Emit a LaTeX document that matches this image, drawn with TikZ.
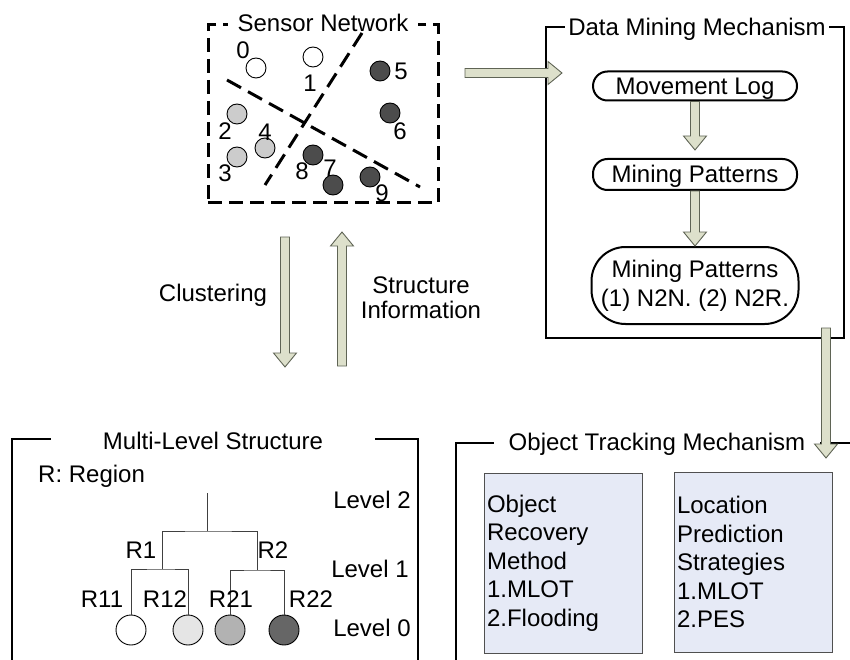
\documentclass[tikz,border=0pt]{standalone}
\usepackage{fontspec}
\setmainfont{Liberation Sans}
\usetikzlibrary{positioning, calc}

\definecolor{arrfill}{RGB}{221,224,203}
\definecolor{arrline}{RGB}{95,100,85}
\definecolor{boxfill}{RGB}{230,234,246}
\definecolor{boxline}{RGB}{80,80,80}

\begin{document}
\begin{tikzpicture}[x=1pt, y=-1pt,
		every node/.style={font=\fontsize{24}{28.5}\selectfont, inner sep=0pt},
		lbl/.style={text height=17pt, text depth=0pt},
		frame/.style={draw, line width=2.4pt},
		snframe/.style={draw, line width=3pt, dash pattern=on 14pt off 7pt},
		cut/.style={line width=3pt, dash pattern=on 16pt off 8pt},
		title/.style={fill=white, inner ysep=2pt},
		sensor/.style={circle, draw, line width=0.9pt, minimum size=20pt},
		region/.style={circle, draw, line width=0.9pt, minimum size=30pt},
		pill/.style={draw, line width=2pt, rounded corners=14.5pt, minimum width=204pt, minimum height=29pt},
		method/.style={draw=boxline, fill=boxfill, line width=0.8pt, inner xsep=3pt, minimum width=158pt, minimum height=180pt, text width=152pt, align=left},
		tree/.style={draw=black!75, line width=0.8pt},
		fat/.style={draw=arrline, fill=arrfill, line width=0.9pt, to path={
				($(\tikztostart)!4.5pt!90:(\tikztotarget)$) --
				($(\tikztotarget)!14pt!(\tikztostart)!4.5pt!-90:(\tikztostart)$) --
				($(\tikztotarget)!14pt!(\tikztostart)!11.5pt!-90:(\tikztostart)$) --
				(\tikztotarget) --
				($(\tikztotarget)!14pt!(\tikztostart)!11.5pt!90:(\tikztostart)$) --
				($(\tikztotarget)!14pt!(\tikztostart)!4.5pt!90:(\tikztostart)$) --
				($(\tikztostart)!4.5pt!-90:(\tikztotarget)$) -- cycle}}
		]
		\useasboundingbox (0,0) rectangle (850,660);
		\clip (0,0) rectangle (850,660);
		
		% Sensor network
		\node (sn) [snframe, minimum width=230pt, minimum height=178pt] at (323,114) {};
		\node (snt) [title, lbl, inner xsep=10pt] at (323,23) {Sensor Network};
		\coordinate (a1) at (227,80);
		\coordinate (a2) at (420,187);
		\coordinate (b1) at (362,33);
		\coordinate (b2) at (265,185);
		\draw [cut] (a1) -- (a2);
		\draw [cut] (b1) -- (b2);
		\foreach \n/\x/\y/\f/\lx/\ly in {0/256/68/white/243/50, 1/313/57/white/310/83,
			2/237/114/black!20/225/131, 3/237/157/black!20/225/173, 4/265/148/black!20/265/132,
			5/380/71/black!70/401/71, 6/390/113/black!70/400/131, 7/333/185/black!70/330/168,
			8/313/155/black!70/302/171, 9/370/177/black!70/382/193}
		{
			\node (s\n) [sensor, fill=\f] at (\x,\y) {};
			\node (l\n) [lbl] at (\lx,\ly) {\n};
		}
		
		% Data mining
		\node (dm) [frame, minimum width=298pt, minimum height=311pt] at (695,182.5) {};
		\node (dmt) [title, lbl, inner xsep=3pt] at (697,27) {Data Mining Mechanism};
		\node (mv) [pill, lbl] at (695,86) {Movement Log};
		\node (mp) [pill, lbl, below=56.5pt of mv, minimum height=31pt] {Mining Patterns};
		\node (mr) [pill, below=55pt of mp, minimum width=207pt, minimum height=77pt, rounded corners=34pt, align=center, font=\fontsize{24}{29}\selectfont] {Mining Patterns\\(1) N2N. (2) N2R.};
		
		% Multi-level structure
		\node (ml) [frame, minimum width=406pt, minimum height=241pt] at (215,559.5) {};
		\node (mlt) [title, lbl, inner xsep=52pt] at (213,441) {Multi-Level Structure};
		\node (rg) [lbl, anchor=west] at (38,474) {R: Region};
		\coordinate (t0) at (207,493);
		\coordinate (tr) at (207,531);
		\coordinate (tr1) at (162,569);
		\coordinate (tr2) at (257,570);
		\node (c11) [region, fill=white] at (131,630) {};
		\node (c12) [region, fill=black!10] at (188,630) {};
		\node (c21) [region, fill=black!30] at (230,630) {};
		\node (c22) [region, fill=black!60] at (284,630) {};
		\draw [tree] (t0) -- (tr);
		\draw [tree] (tr1) |- (tr) -| (tr2);
		\draw [tree] (c11) |- (tr1) -| (c12);
		\draw [tree] (c21) |- (tr2) -| (c22);
		\node (r1) [lbl] at (141,550) {R1};
		\node (r2) [lbl] at (273,550) {R2};
		\node (r11) [lbl] at (102,599) {R11};
		\node (r12) [lbl] at (165,599) {R12};
		\node (r21) [lbl] at (231,599) {R21};
		\node (r22) [lbl] at (311,599) {R22};
		\node (lv2) [lbl] at (372,500) {Level 2};
		\node (lv1) [lbl] at (370,569) {Level 1};
		\node (lv0) [lbl] at (372,628) {Level 0};
		
		% Object tracking
		\node (ot) [frame, minimum width=414pt, minimum height=237pt] at (663,561.5) {};
		\node (ott) [title, lbl, inner xsep=15pt] at (657,442) {Object Tracking Mechanism};
		\node (orm) [method] at (563,563) {Object\\Recovery\\Method\\1.MLOT\\2.Flooding};
		\node (lps) [method] at (753,562) {Location\\Prediction\\Strategies\\1.MLOT\\2.PES};
		
		% Labels
		\node (cl) [lbl] at (213,292.5) {Clustering};
		\node (si) [align=center, font=\fontsize{24}{25}\selectfont] at (421,298) {Structure\\Information};
		
		% Arrows
		\coordinate (h1) at (465,73);
		\coordinate (h2) at (562,73);
		\coordinate (d1) at (mv.south);
		\coordinate (d2) at ([yshift=8pt]mp.north);
		\coordinate (d3) at (mp.south);
		\coordinate (d4) at (mr.north);
		\coordinate (k1) at (285,237);
		\coordinate (k2) at (285,367);
		\coordinate (u1) at (342,366);
		\coordinate (u2) at (342,232);
		\coordinate (o1) at (826,328);
		\coordinate (o2) at (826,458);
		\path [fat] (h1) to (h2);
		\path [fat] (d1) to (d2);
		\path [fat] (d3) to (d4);
		\path [fat] (k1) to (k2);
		\path [fat] (u1) to (u2);
		\path [fat] (o1) to (o2);
		
	\end{tikzpicture}
\end{document}
